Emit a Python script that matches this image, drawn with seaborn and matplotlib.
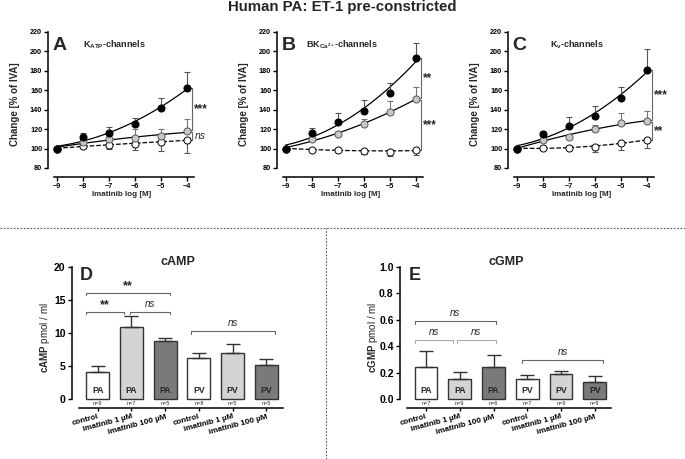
import numpy as np
import matplotlib
matplotlib.use("Agg")
import matplotlib.pyplot as plt
import seaborn as sns
from matplotlib.lines import Line2D

sns.set_style("ticks")
plt.rcParams["font.family"] = ["Liberation Sans", "DejaVu Sans"]
plt.rcParams["font.weight"] = "bold"
plt.rcParams["axes.labelweight"] = "bold"
plt.rcParams["mathtext.fontset"] = "custom"
plt.rcParams["mathtext.rm"] = "Liberation Sans:bold"
plt.rcParams["mathtext.bf"] = "Liberation Sans:bold"
plt.rcParams["mathtext.it"] = "Liberation Sans:italic"

# --- top row: concentration-response data (mean, SEM) ---
log_conc = [-9, -8, -7, -6, -5, -4]

katp_black = [100, 112, 116, 125.5, 142, 162]
katp_black_err = [0, 4, 6, 5.5, 10.5, 17]
katp_gray = [100, 107, 110, 110.5, 112.5, 118]
katp_gray_err = [0, 3, 4, 9.5, 7.5, 12]
katp_white = [100, 102.5, 104, 105, 107, 108.5]
katp_white_err = [0, 2, 4, 7, 10, 13.5]

bk_black = [100, 116.5, 127.5, 138.5, 157.5, 193]
bk_black_err = [0, 4.2, 9.5, 11, 10.5, 16]
bk_gray = [100, 110, 114.5, 125, 138, 150.7]
bk_gray_err = [0, 3, 4, 5, 10.5, 12.3]
bk_white = [100, 99, 99, 97.6, 96.5, 98.5]
bk_white_err = [0, 1, 1, 3.6, 4.5, 5]

kv_black = [100, 114.5, 123, 134, 152, 181]
kv_black_err = [0, 3.5, 9, 9.8, 11.8, 21.4]
kv_gray = [100, 108.6, 112, 120.5, 126, 128]
kv_gray_err = [0, 2.5, 3, 4, 11, 11]
kv_white = [100, 101, 101, 102, 105.5, 109]
kv_white_err = [0, 1.5, 3, 5.5, 7, 8]

# --- bottom row: cyclic nucleotides ---
bar_groups = ["PA", "PA", "PA", "PV", "PV", "PV"]
bar_ticks = ["control", "imatinib 1 µM", "imatinib 100 µM",
             "control", "imatinib 1 µM", "imatinib 100 µM"]
bar_colors = ["#ffffff", "#d4d4d4", "#7a7a7a", "#ffffff", "#d4d4d4", "#7a7a7a"]

camp_mean = [4.17, 10.85, 8.74, 6.28, 7.04, 5.18]
camp_err = [0.9, 1.7, 0.45, 0.76, 1.3, 0.85]
camp_n = [9, 7, 5, 8, 5, 5]

cgmp_mean = [0.241, 0.151, 0.241, 0.153, 0.188, 0.131]
cgmp_err = [0.123, 0.058, 0.093, 0.028, 0.028, 0.045]
cgmp_n = [7, 9, 6, 7, 9, 9]

fig = plt.figure(figsize=(6.85, 4.59), dpi=100)
W, H = 685, 459


def px_axes(left, top, width, height):
    return fig.add_axes([left / W, 1 - (top + height) / H, width / W, height / H])


def curve_panel(ax, black, black_err, gray, gray_err, white, white_err,
                letter, name, name_x, stars):
    x = np.array(log_conc)
    for y, kind in [(white, "w"), (gray, "g"), (black, "k")]:
        sns.regplot(x=x, y=np.array(y), order=2, ci=None, scatter=False, truncate=True,
                    line_kws=dict(color="black", lw=0.9, ls="--" if kind == "w" else "-"), ax=ax)
    zeros = np.zeros(6)
    ax.errorbar(x, black, yerr=[zeros, black_err], fmt="none", ecolor="#555555",
                elinewidth=0.8, capsize=2.5, capthick=0.8, zorder=3)
    ax.errorbar(x, gray, yerr=[zeros, gray_err], fmt="none", ecolor="#777777",
                elinewidth=0.8, capsize=2.5, capthick=0.8, zorder=3)
    ax.errorbar(x, white, yerr=[white_err, zeros], fmt="none", ecolor="#555555",
                elinewidth=0.8, capsize=2.5, capthick=0.8, zorder=3)
    sns.scatterplot(x=x, y=white, color="white", edgecolor="black", s=26, linewidth=0.7, zorder=4, ax=ax)
    sns.scatterplot(x=x, y=gray, color="#c8c8c8", edgecolor="#555555", s=26, linewidth=0.7, zorder=5, ax=ax)
    sns.scatterplot(x=x, y=black, color="black", edgecolor="black", s=26, linewidth=0.7, zorder=6, ax=ax)

    ax.set_xlim(-9.33, -3.56)
    ax.set_ylim(70.7, 220)
    ax.set_yticks(range(80, 221, 20))
    ax.set_xticks(log_conc)
    sns.despine(ax=ax)
    ax.spines["left"].set_bounds(80, 220)
    ax.spines["bottom"].set_bounds(-9.08, -3.7)
    for s in ["left", "bottom"]:
        ax.spines[s].set_linewidth(1.1)
        ax.spines[s].set_color("black")
    ax.tick_params(length=3, width=1, labelsize=5.2, pad=1.2, colors="black")
    ax.set_ylabel("Change [% of IVA]", fontsize=7)
    ax.set_xlabel("Imatinib log [M]", fontsize=5.8)
    ax.yaxis.set_label_coords(-0.185, 0.5)
    ax.xaxis.set_label_coords(0.49, -0.098)

    ax.text(0.03, 0.91, letter, transform=ax.transAxes, fontsize=14, va="center", ha="left")
    ax.text(name_x, 0.915, name, transform=ax.transAxes, fontsize=6.5, va="center", ha="left")

    # brackets: black vs white-control, grey vs white-control
    bx, tx = -3.8, -3.87
    top, mid, low = black[-1], gray[-1], white[-1]
    for (ya, yb, label) in [(top, mid + 1, stars[0]), (mid - 1, low, stars[1])]:
        ax.plot([tx, bx, bx, tx], [ya, ya, yb, yb], color="#666666", lw=0.8, clip_on=False)
        style = "italic" if label == "ns" else "normal"
        ax.text(bx + 0.1, (ya + yb) / 2, label, fontsize=7.5 if label == "ns" else 8.5,
                style=style, fontweight="normal" if label == "ns" else "bold",
                va="center", ha="left", clip_on=False)


axA = px_axes(48, 32, 150, 145)
curve_panel(axA, katp_black, katp_black_err, katp_gray, katp_gray_err, katp_white, katp_white_err,
            "A", r"K$_{\mathrm{ATP}}$-channels", 0.235, ["***", "ns"])
axB = px_axes(277, 32, 150, 145)
curve_panel(axB, bk_black, bk_black_err, bk_gray, bk_gray_err, bk_white, bk_white_err,
            "B", r"BK$_{\mathrm{Ca}^{2+}}$-channels", 0.19, ["**", "***"])
axC = px_axes(508, 32, 150, 145)
curve_panel(axC, kv_black, kv_black_err, kv_gray, kv_gray_err, kv_white, kv_white_err,
            "C", r"K$_{\mathrm{v}}$-channels", 0.28, ["***", "**"])


def bar_panel(ax, means, errs, ns, ymax, step, letter, title, ylab, brackets, br_h, n_y, lab_y, fmt):
    pos = np.arange(6)
    sns.barplot(x=pos, y=means, hue=pos, palette=bar_colors, legend=False, width=0.68,
                edgecolor="#333333", linewidth=1.0, saturation=1, ax=ax)
    ax.errorbar(pos, means, yerr=[np.zeros(6), errs], fmt="none", ecolor="#333333",
                elinewidth=1.0, capsize=5, capthick=1.0, zorder=3)
    for i in range(6):
        ax.text(pos[i], lab_y, bar_groups[i], ha="center", va="center", fontsize=6.3)
        ax.text(pos[i], n_y, f"n={ns[i]}", ha="center", va="center", fontsize=4, fontweight="normal")
    ax.set_xlim(-0.77, 5.54)
    ax.set_ylim(-0.0635 * ymax, ymax)
    ax.set_yticks(np.arange(0, ymax + step / 2, step))
    ax.yaxis.set_major_formatter(matplotlib.ticker.FormatStrFormatter(fmt))
    ax.set_xticks(pos)
    ax.set_xticklabels(bar_ticks, rotation=15, ha="right", va="top", rotation_mode="anchor",
                       fontsize=5.8)
    sns.despine(ax=ax)
    ax.spines["left"].set_bounds(0, ymax)
    ax.spines["bottom"].set_bounds(-0.55, 5.48)
    for s in ["left", "bottom"]:
        ax.spines[s].set_linewidth(1.1)
        ax.spines[s].set_color("black")
    ax.tick_params(axis="y", length=3, width=1, labelsize=7.5, pad=1.5, colors="black")
    ax.tick_params(axis="x", length=2.5, width=1, pad=1.5, colors="black")
    ax.set_xlabel("")
    ax.set_ylabel(ylab, fontsize=7, fontweight="normal")
    ax.yaxis.set_label_coords(-0.092, 0.5)
    ax.text(0.04, 0.94, letter, transform=ax.transAxes, fontsize=13, va="center", ha="left")
    ax.text(0.5, 1.03, title, transform=ax.transAxes, fontsize=9, va="center", ha="center")
    for (x0, x1, y, label, col) in brackets:
        ax.plot([x0, x0, x1, x1], [y - br_h, y, y, y - br_h], color=col, lw=0.8)
        if label == "ns":
            ax.text((x0 + x1) / 2, y + 1.1 * br_h, label, fontsize=7, style="italic",
                    fontweight="normal", ha="center", va="bottom")
        else:
            ax.text((x0 + x1) / 2, y + 0.2 * br_h, label, fontsize=9, ha="center", va="bottom")


axD = px_axes(71.7, 266.7, 213, 141)
bar_panel(axD, camp_mean, camp_err, camp_n, 20, 5, "D", "cAMP", r"$\mathbf{cAMP}$ pmol / ml",
          [(-0.34, 0.79, 13.2, "**", "#666666"), (0.96, 2.14, 13.2, "ns", "#666666"),
           (-0.34, 2.14, 16.1, "**", "#666666"), (2.77, 5.25, 10.3, "ns", "#666666")],
          0.4, -0.62, 1.4, "%d")
axE = px_axes(400, 266.7, 213, 141)
bar_panel(axE, cgmp_mean, cgmp_err, cgmp_n, 1.0, 0.2, "E", "cGMP", r"$\mathbf{cGMP}$ pmol / ml",
          [(-0.34, 0.79, 0.447, "ns", "#aaaaaa"), (0.93, 2.06, 0.447, "ns", "#aaaaaa"),
           (-0.34, 2.06, 0.59, "ns", "#666666"), (2.85, 5.24, 0.296, "ns", "#666666")],
          0.02, -0.031, 0.07, "%.1f")

fig.text(0.5, 1 - 7 / H, "Human PA: ET-1 pre-constricted", ha="center", va="center", fontsize=10.8)
fig.add_artist(Line2D([0, 1], [1 - 228 / H] * 2, transform=fig.transFigure,
                      color="#555555", lw=0.8, ls=(0, (1.5, 1.5))))
fig.add_artist(Line2D([325.7 / W] * 2, [0, 1 - 228 / H], transform=fig.transFigure,
                      color="#555555", lw=0.8, ls=(0, (1.5, 1.5))))

fig.savefig("out.png", dpi=100)
